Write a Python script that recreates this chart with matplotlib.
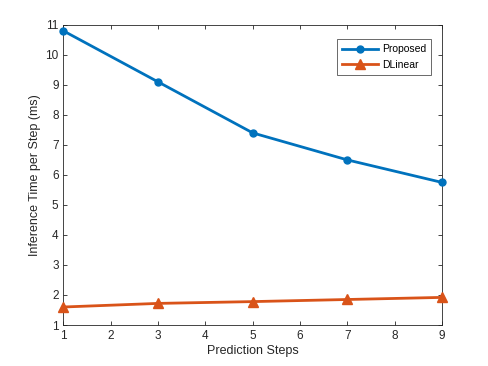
import matplotlib
matplotlib.use("Agg")
import matplotlib.pyplot as plt

steps = [1, 3, 5, 7, 9]
proposed = [10.8, 9.1, 7.4, 6.5, 5.75]
dlinear = [1.6, 1.72, 1.78, 1.85, 1.92]
xticks = [1, 2, 3, 4, 5, 6, 7, 8, 9]
yticks = [1, 2, 3, 4, 5, 6, 7, 8, 9, 10, 11]

plt.rcParams['font.family'] = ['Liberation Sans', 'DejaVu Sans']

fig = plt.figure(figsize=(4.88, 3.66), dpi=100)
ax = fig.add_axes([0.13, 0.112, 0.776, 0.82])

ax.plot(steps, proposed, color='#0072BD', lw=2, marker='o', ms=5, label='Proposed', clip_on=False, zorder=3)
ax.plot(steps, dlinear, color='#D95319', lw=2, marker='^', ms=7, label='DLinear', clip_on=False, zorder=3)

ax.set_xlim(1, 9)
ax.set_ylim(1, 11)
ax.set_xticks(xticks)
ax.set_yticks(yticks)
ax.tick_params(direction='in', top=True, right=True, labelsize=8.5, colors='#262626', length=3, width=0.6)
for s in ax.spines.values():
    s.set_color('#262626')
    s.set_linewidth(0.6)
ax.set_xlabel('Prediction Steps', fontsize=9, color='#262626', labelpad=2)
ax.set_ylabel('Inference Time per Step (ms)', fontsize=9, color='#262626', labelpad=3)

leg = ax.legend(loc='upper right', fontsize=7.5, frameon=True, fancybox=False, edgecolor='#262626',
                borderpad=0.5, handlelength=3.4, labelspacing=0.55, handletextpad=0.4,
                bbox_to_anchor=(0.985, 0.97))
leg.get_frame().set_linewidth(0.6)

fig.savefig('out.png', dpi=100)
